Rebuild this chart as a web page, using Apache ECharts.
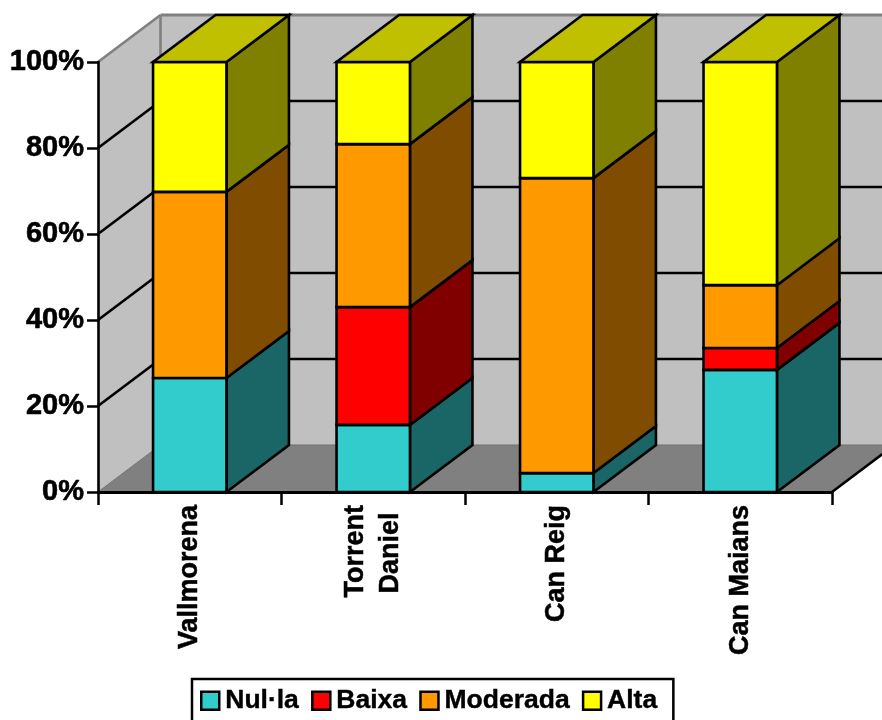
<!DOCTYPE html>
<html>
<head>
<meta charset="utf-8">
<style>html,body{margin:0;padding:0;background:#fff;overflow:hidden}#c{width:882px;height:720px}</style>
<script src="https://cdn.jsdelivr.net/npm/echarts@6/dist/echarts.min.js"></script>
</head>
<body>
<div id="c"></div>
<script>
const categories = ['Vallmorena', 'Torrent\nDaniel', 'Can Reig', 'Can Maians'];
const seriesNames = ['Nul·la', 'Baixa', 'Moderada', 'Alta'];
const nulla = [26.5, 15.6, 4.4, 28.4];
const baixa = [0, 27.4, 0, 5.1];
const moderada = [43.3, 37.9, 68.6, 14.6];
const alta = [30.2, 19.1, 27.0, 51.9];
const yTicks = [20, 40, 60, 80];

const allValues = [nulla, baixa, moderada, alta];
const frontColors = ['#33CCCC', '#FF0000', '#FF9900', '#FFFF00'];
const sideColors = ['#1A6666', '#800000', '#804C00', '#808000'];
const topColors = ['#26A6A6', '#C00000', '#C07300', '#C0C000'];
const DX = 62.5, DY = 47, BAR = 0.4, LW = 2.6;
const F = '"Liberation Sans", Arial, sans-serif';

function poly(points, fill, stroke, lw) {
  return { type: 'polygon', shape: { points }, style: { fill, stroke: stroke || 'none', lineWidth: lw || 0, lineJoin: 'miter' } };
}
function line(a, b, color, lw) {
  return { type: 'line', shape: { x1: a[0], y1: a[1], x2: b[0], y2: b[1] }, style: { stroke: color, lineWidth: lw, fill: 'none' } };
}
function renderWalls(params, api) {
  const band = api.size([1, 0])[0];
  const L = api.coord([0, 0])[0] - band / 2;
  const R = api.coord([categories.length - 1, 0])[0] + band / 2;
  const y0 = api.coord([0, 0])[1], y100 = api.coord([0, 100])[1];
  const kids = [
    poly([[L, y0], [L + DX, y0 - DY], [L + DX, y100 - DY], [L, y100]], '#C0C0C0'),
    poly([[L + DX, y0 - DY], [R + DX, y0 - DY], [R + DX, y100 - DY], [L + DX, y100 - DY]], '#C0C0C0'),
    poly([[L, y0], [R, y0], [R + DX, y0 - DY], [L + DX, y0 - DY]], '#808080'),
    line([L, y0], [L + DX, y0 - DY], '#707070', 1),
    line([L + DX, y0 - DY], [R + DX, y0 - DY], '#707070', 1),
    line([R, y0], [R + DX, y0 - DY], '#000', LW),
    line([L + DX, y0 - DY], [L + DX, y100 - DY], '#808080', LW),
    line([L, y100], [L + DX, y100 - DY], '#808080', LW),
    line([L + DX, y100 - DY], [R + DX, y100 - DY], '#808080', 3)
  ];
  yTicks.forEach(v => {
    const y = api.coord([0, v])[1];
    kids.push(line([L, y], [L + DX, y - DY], '#000', LW));
    kids.push(line([L + DX, y - DY], [R + DX, y - DY], '#000', LW));
  });
  return { type: 'group', children: kids };
}
function renderSeg(si) {
  return function (params, api) {
    const i = api.value(0), a = api.value(1), b = api.value(2);
    const band = api.size([1, 0])[0];
    const cx = api.coord([i, 0])[0];
    const x1 = cx - band * BAR / 2, x2 = cx + band * BAR / 2;
    const y1 = api.coord([i, a])[1], y2 = api.coord([i, b])[1];
    const kids = [
      poly([[x2, y1], [x2 + DX, y1 - DY], [x2 + DX, y2 - DY], [x2, y2]], sideColors[si], '#000', LW),
      poly([[x1, y1], [x2, y1], [x2, y2], [x1, y2]], frontColors[si], '#000', LW)
    ];
    if (b >= 99.95) {
      kids.push(poly([[x1, y2], [x2, y2], [x2 + DX, y2 - DY], [x1 + DX, y2 - DY]], topColors[si], '#000', LW));
    }
    return { type: 'group', children: kids };
  };
}
const barSeries = seriesNames.map((name, si) => {
  const rows = [];
  categories.forEach((c, i) => {
    let start = 0;
    for (let k = 0; k < si; k++) start += allValues[k][i];
    const v = allValues[si][i];
    if (v > 0) rows.push([i, start, start + v]);
  });
  return {
    name, type: 'custom', z: 3, clip: false, silent: true,
    itemStyle: { color: frontColors[si] },
    encode: { x: 0, y: [1, 2] },
    renderItem: renderSeg(si),
    data: rows
  };
});

const chart = echarts.init(document.getElementById('c'), null, { renderer: 'canvas' });
chart.setOption({
  animation: false,
  backgroundColor: '#fff',
  grid: { left: 98, right: 50, top: 62, bottom: 228 },
  xAxis: {
    type: 'category', data: categories, z: 4,
    axisLine: { lineStyle: { color: '#000', width: 3 } },
    axisTick: { show: true, alignWithLabel: false, length: 13, lineStyle: { color: '#000', width: 2.5 } },
    splitLine: { show: false },
    axisLabel: {
      rotate: 90, margin: 13, interval: 0, color: '#000', fontFamily: F, fontWeight: 'bold', fontSize: 27,
      textBorderColor: '#000', textBorderWidth: 0.5,
      lineHeight: 35,
      formatter: v => v.includes('\n') ? v + ' ' : v
    }
  },
  yAxis: {
    type: 'value', min: 0, max: 100, interval: 20, z: 4,
    axisLine: { show: true, lineStyle: { color: '#000', width: 2.6 } },
    axisTick: { show: true, length: 11, lineStyle: { color: '#000', width: 2.5 } },
    splitLine: { show: false },
    axisLabel: { margin: 14, color: '#000', fontFamily: F, fontWeight: 'bold', fontSize: 29, textBorderColor: '#000', textBorderWidth: 0.6, padding: [2, 0, 0, 0], formatter: '{value}%' }
  },
  legend: {
    data: seriesNames, left: 192, top: 679, orient: 'horizontal',
    icon: 'rect', itemWidth: 18, itemHeight: 18, itemGap: 12,
    padding: [8, 16, 30, 8],
    borderColor: '#000', borderWidth: 2.5, backgroundColor: '#fff',
    selectedMode: false,
    itemStyle: { borderColor: '#000', borderWidth: 2.5 },
    textStyle: { color: '#000', fontFamily: F, fontWeight: 'bold', fontSize: 26.5, textBorderColor: '#000', textBorderWidth: 0.4, padding: [0, 0, 0, 1] }
  },
  series: [{
    name: 'walls', type: 'custom', z: 1, clip: false, silent: true,
    encode: { x: 0, y: 1 }, renderItem: renderWalls, data: [[0, 0]]
  }].concat(barSeries)
});
</script>
</body>
</html>
